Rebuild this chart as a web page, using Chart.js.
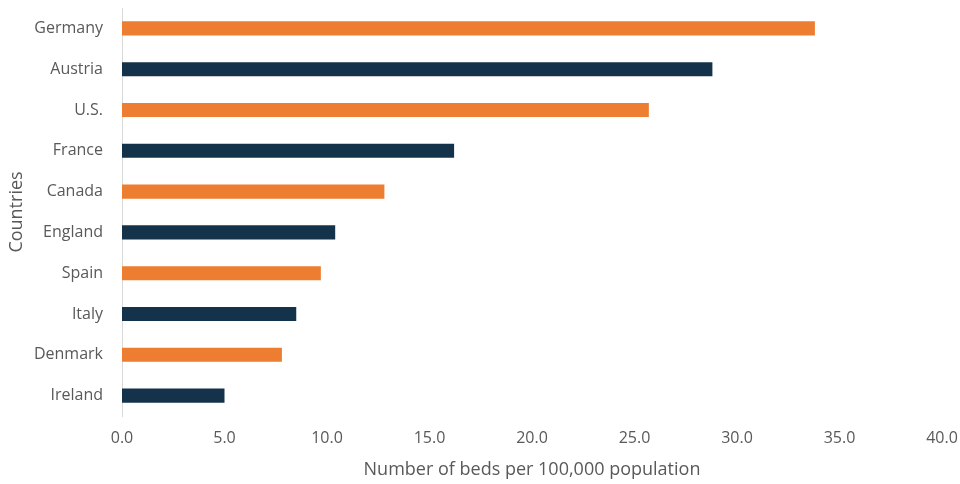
<!DOCTYPE html>
<html>
<head>
<meta charset="utf-8">
<script src="https://cdn.jsdelivr.net/npm/chart.js@4"></script>
<style>
  html, body { margin: 0; padding: 0; background: #fff; }
  #wrap { width: 960px; height: 484px; }
</style>
</head>
<body>
<div id="wrap"><canvas id="chart" width="960" height="484"></canvas></div>
<script>
// Data
const countries = ['Germany', 'Austria', 'U.S.', 'France', 'Canada', 'England', 'Spain', 'Italy', 'Denmark', 'Ireland'];
const beds = [33.8, 28.8, 25.7, 16.2, 12.8, 10.4, 9.7, 8.5, 7.8, 5.0];
const xTicks = [0, 5, 10, 15, 20, 25, 30, 35, 40];

const ORANGE = '#ED7D31';
const NAVY = '#14334A';
const barColors = countries.map((c, i) => (i % 2 === 0 ? ORANGE : NAVY));

const FONT = "'Open Sans', sans-serif";

// pin the plot area to where it sits in the reference
const pinArea = {
  id: 'pinArea',
  afterLayout(chart) {
    const a = chart.chartArea;
    const y = chart.scales.y;
    const x = chart.scales.x;
    if (a.top !== 8) {
      a.top = 8;
      a.height = a.bottom - a.top;
      y.top = 8;
      y.height = y.bottom - y.top;
      y.configure();
    }
    if (a.right !== 942) {
      a.right = 942;
      a.width = a.right - a.left;
      x.right = 942;
      x.width = x.right - x.left;
      x.configure();
    }
  }
};

new Chart(document.getElementById('chart'), {
  type: 'bar',
  data: {
    labels: countries,
    datasets: [{
      data: beds,
      backgroundColor: barColors,
      borderWidth: 0,
      barPercentage: 0.69,
      categoryPercentage: 0.5
    }]
  },
  plugins: [pinArea],
  options: {
    indexAxis: 'y',
    responsive: false,
    animation: false,
    layout: { padding: { top: 8, right: 5, bottom: 0, left: 0 } },
    plugins: { legend: { display: false }, tooltip: { enabled: false } },
    scales: {
      x: {
        min: 0,
        max: 40,
        afterBuildTicks: (scale) => { scale.ticks = xTicks.map(v => ({ value: v })); },
        afterFit: (scale) => { scale.height = 68; },
        grid: { display: false, drawTicks: false },
        border: { display: false },
        ticks: {
          padding: 13,
          color: '#595959',
          font: { family: FONT, size: 16 },
          callback: (v) => Number(v).toFixed(1)
        },
        title: {
          display: true,
          text: 'Number of beds per 100,000 population',
          color: '#595959',
          font: { family: FONT, size: 18 },
          padding: { top: 0, bottom: 3 }
        }
      },
      y: {
        afterFit: (scale) => { scale.width = 122; },
        grid: { display: false, drawTicks: false },
        border: { display: true, color: '#d9d9d9', width: 1 },
        ticks: {
          padding: 19,
          color: '#595959',
          font: { family: FONT, size: 16 }
        },
        title: {
          display: true,
          text: 'Countries',
          color: '#595959',
          font: { family: FONT, size: 18 },
          padding: { top: 6, bottom: 0 }
        }
      }
    }
  }
});
</script>
</body>
</html>
